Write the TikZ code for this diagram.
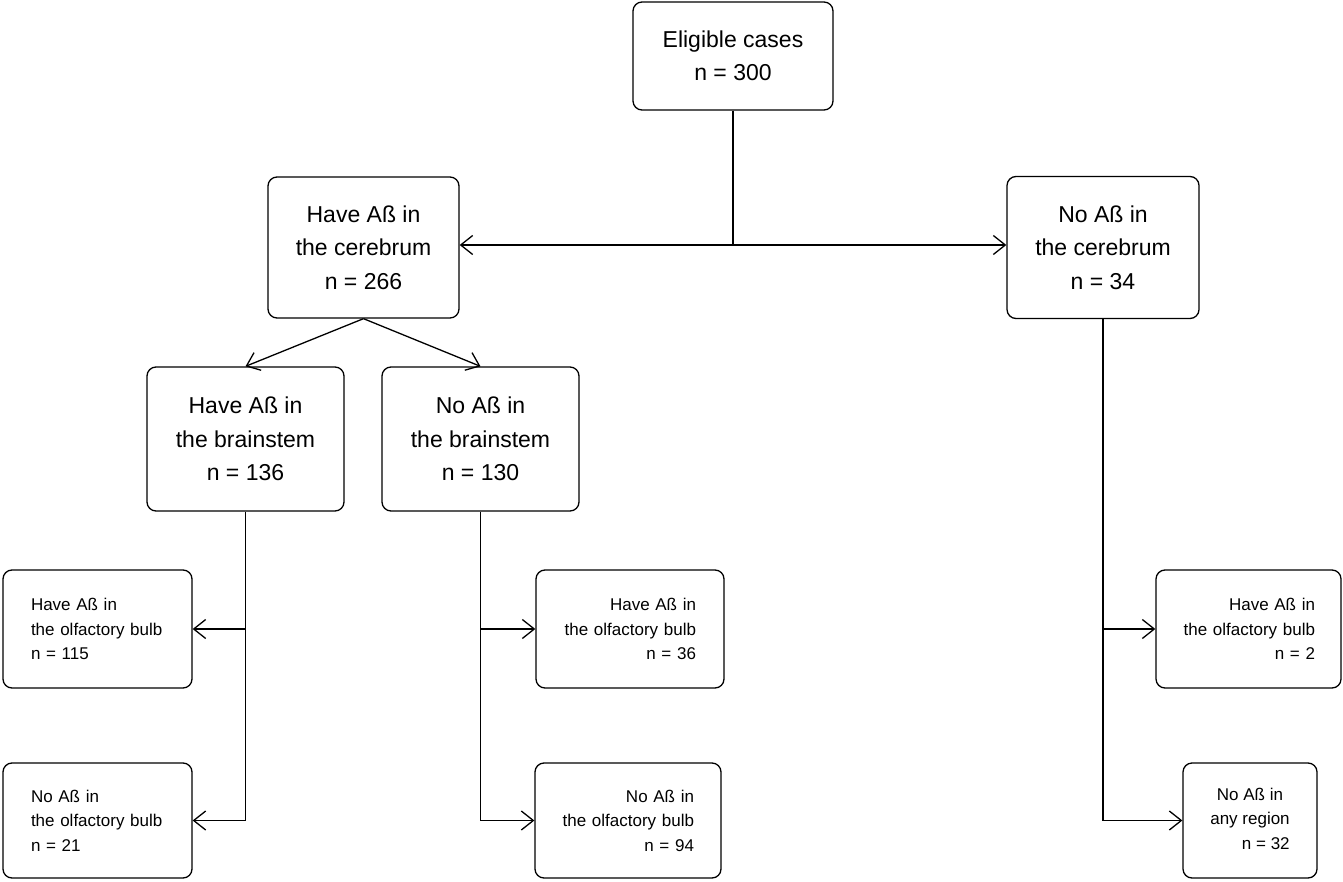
\documentclass[tikz,border=0pt]{standalone}
\usepackage{fontspec}
\setmainfont{Liberation Sans}
\usetikzlibrary{arrows.meta}
\begin{document}
\begin{tikzpicture}[x=1pt,y=-1pt,
  box/.style={draw=black, line width=1.3pt, rounded corners=9pt, inner sep=0pt, align=center},
  bigtext/.style={font=\fontsize{23}{33.5}\selectfont},
  smalltext/.style={font=\fontsize{17}{24.5}\selectfont},
  conn/.style={draw=black, line width=1.3pt},
  arr/.style={conn, -{Straight Barb[length=12pt,width=19pt,line width=1.3pt]}}
]
\useasboundingbox (0,0) rectangle (1343,882);
% big boxes
\node[box,bigtext,minimum width=200pt,minimum height=108pt] (el) at (733,56) {Eligible cases\\n = 300};
\node[box,bigtext,minimum width=191pt,minimum height=141pt] (hc) at (363.5,247.5) {Have Aß in\\the cerebrum\\n = 266};
\node[box,bigtext,minimum width=192pt,minimum height=142pt] (nc) at (1103,247.5) {No Aß in\\the cerebrum\\n = 34};
\node[box,bigtext,minimum width=197pt,minimum height=144pt] (hb) at (245.5,439) {Have Aß in\\the brainstem\\n = 136};
\node[box,bigtext,minimum width=197pt,minimum height=144pt] (nb) at (480.5,439) {No Aß in\\the brainstem\\n = 130};
% small boxes
\node[box,smalltext,minimum width=189pt,minimum height=118pt,inner xsep=28pt,text width=133pt,align=left] (lb1) at (97.5,629) {Have Aß in\\the olfactory bulb\\n = 115};
\node[box,smalltext,minimum width=189pt,minimum height=115pt,inner xsep=28pt,text width=133pt,align=left] (lb2) at (97.5,820.5) {No Aß in\\the olfactory bulb\\n = 21};
\node[box,smalltext,minimum width=188pt,minimum height=118pt,inner xsep=28pt,text width=132pt,align=right] (mb1) at (630,629) {Have Aß in\\the olfactory bulb\\n = 36};
\node[box,smalltext,minimum width=186pt,minimum height=115pt,inner xsep=27pt,text width=132pt,align=right] (mb2) at (628,820.5) {No Aß in\\the olfactory bulb\\n = 94};
\node[box,smalltext,minimum width=185pt,minimum height=118pt,inner xsep=26pt,text width=133pt,align=right] (rb1) at (1248.5,629) {Have Aß in\\the olfactory bulb\\n = 2};
\node[box,smalltext,minimum width=134pt,minimum height=115pt,align=center] (rb2) at (1250,820.5) {No Aß in\\any region\\\phantom{any region}\llap{n = 32}};
% connectors
\coordinate (j1) at (el.south |- 0,245);
\draw[conn] (el.south) -- (j1);
\draw[arr] (j1) -- (j1 -| hc.east);
\draw[arr] (j1) -- (j1 -| nc.west);
\draw[arr] (hc.south) -- (hb.north);
\draw[arr] (hc.south) -- (nb.north);
% left column
\draw[arr] (hb.south) |- (lb2.east);
\draw[arr] (hb.south |- lb1.east) -- (lb1.east);
% middle column
\draw[arr] (nb.south) |- (mb2.west);
\draw[arr] (nb.south |- mb1.west) -- (mb1.west);
% right column
\draw[arr] (nc.south) |- (rb2.west);
\draw[arr] (nc.south |- rb1.west) -- (rb1.west);
\end{tikzpicture}
\end{document}
